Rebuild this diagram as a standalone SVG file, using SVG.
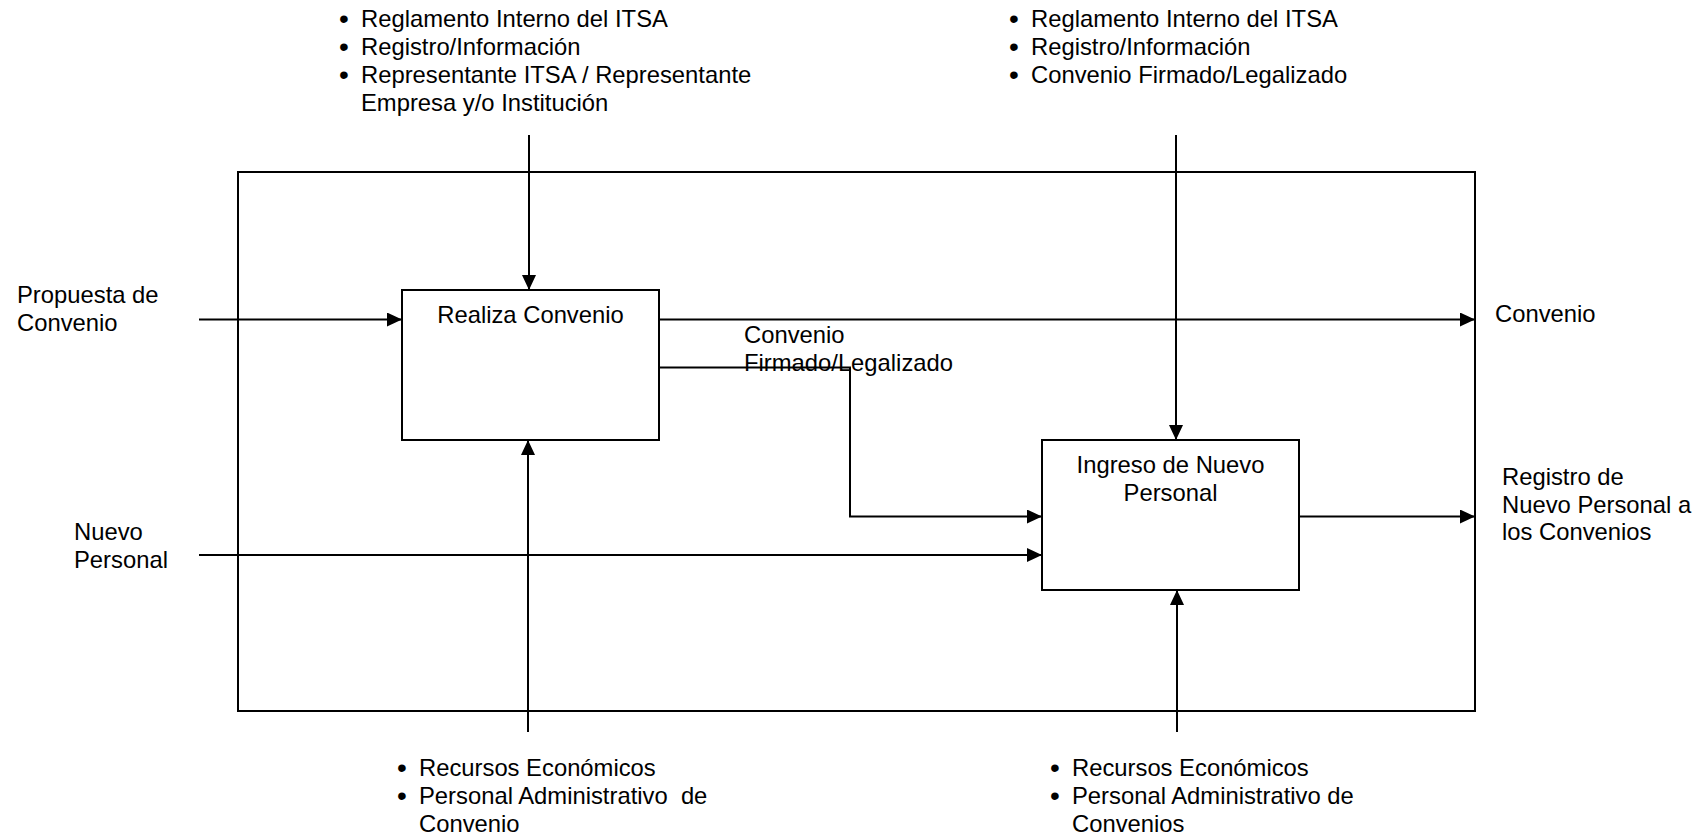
<svg xmlns="http://www.w3.org/2000/svg" width="1706" height="838" viewBox="0 0 1706 838">
<style>
  text { font-family: "Liberation Sans", Arial, sans-serif; font-size: 23.8px; fill: #000; }
  .c { text-anchor: middle; }
  .b { text-anchor: middle; font-size: 28px; }
  .box { fill: #fff; stroke: #000; stroke-width: 2; }
  .frame { fill: none; stroke: #000; stroke-width: 2; }
  .ln { fill: none; stroke: #000; stroke-width: 2; }
</style>
<defs>
  <marker id="ah" markerUnits="userSpaceOnUse" markerWidth="16" markerHeight="14" refX="15" refY="7" orient="auto">
    <path d="M0,0 L15,7 L0,14 Z" fill="#000"/>
  </marker>
</defs>
<rect id="frame" class="frame" x="238" y="172" width="1237" height="539"/>
<g id="connectors">
  <line class="ln" x1="529" y1="135" x2="529" y2="290" marker-end="url(#ah)"/>
  <line class="ln" x1="1176" y1="135" x2="1176" y2="440" marker-end="url(#ah)"/>
  <line class="ln" x1="528" y1="732" x2="528" y2="440" marker-end="url(#ah)"/>
  <line class="ln" x1="1177" y1="732" x2="1177" y2="590" marker-end="url(#ah)"/>
  <line class="ln" x1="199" y1="319.5" x2="402" y2="319.5" marker-end="url(#ah)"/>
  <line class="ln" x1="659" y1="319.5" x2="1475" y2="319.5" marker-end="url(#ah)"/>
  <polyline class="ln" points="659,367.5 850,367.5 850,516.5 1042,516.5" marker-end="url(#ah)"/>
  <line class="ln" x1="199" y1="555" x2="1042" y2="555" marker-end="url(#ah)"/>
  <line class="ln" x1="1299" y1="516.5" x2="1475" y2="516.5" marker-end="url(#ah)"/>
</g>
<g id="realiza">
  <rect class="box" x="402" y="290" width="257" height="150"/>
  <text class="c" x="530.5" y="322.5">Realiza Convenio</text>
</g>
<g id="ingreso">
  <rect class="box" x="1042" y="440" width="257" height="150"/>
  <text class="c" x="1170.5" y="473">Ingreso de Nuevo</text>
  <text class="c" x="1170.5" y="501">Personal</text>
</g>
<g id="label-propuesta">
  <text x="17" y="303">Propuesta de</text>
  <text x="17" y="331">Convenio</text>
</g>
<g id="label-nuevo">
  <text x="74" y="540">Nuevo</text>
  <text x="74" y="568">Personal</text>
</g>
<g id="label-firmado">
  <text x="744" y="343">Convenio</text>
  <text x="744" y="371">Firmado/Legalizado</text>
</g>
<g id="label-convenio">
  <text x="1495" y="322">Convenio</text>
</g>
<g id="label-registro">
  <text x="1502" y="485">Registro de</text>
  <text x="1502" y="512.5">Nuevo Personal a</text>
  <text x="1502" y="540">los Convenios</text>
</g>
<g id="controls-1">
  <text class="b" x="344" y="28">•</text>
  <text x="361" y="27">Reglamento Interno del ITSA</text>
  <text class="b" x="344" y="56">•</text>
  <text x="361" y="55">Registro/Información</text>
  <text class="b" x="344" y="84">•</text>
  <text x="361" y="83">Representante ITSA / Representante</text>
  <text x="361" y="111">Empresa y/o Institución</text>
</g>
<g id="controls-2">
  <text class="b" x="1014" y="28">•</text>
  <text x="1031" y="27">Reglamento Interno del ITSA</text>
  <text class="b" x="1014" y="56">•</text>
  <text x="1031" y="55">Registro/Información</text>
  <text class="b" x="1014" y="84">•</text>
  <text x="1031" y="83">Convenio Firmado/Legalizado</text>
</g>
<g id="mechanisms-1">
  <text class="b" x="402" y="777">•</text>
  <text x="419" y="776">Recursos Económicos</text>
  <text class="b" x="402" y="805">•</text>
  <text x="419" y="804" xml:space="preserve">Personal Administrativo  de</text>
  <text x="419" y="832">Convenio</text>
</g>
<g id="mechanisms-2">
  <text class="b" x="1055" y="777">•</text>
  <text x="1072" y="776">Recursos Económicos</text>
  <text class="b" x="1055" y="805">•</text>
  <text x="1072" y="804">Personal Administrativo de</text>
  <text x="1072" y="832">Convenios</text>
</g>
</svg>
